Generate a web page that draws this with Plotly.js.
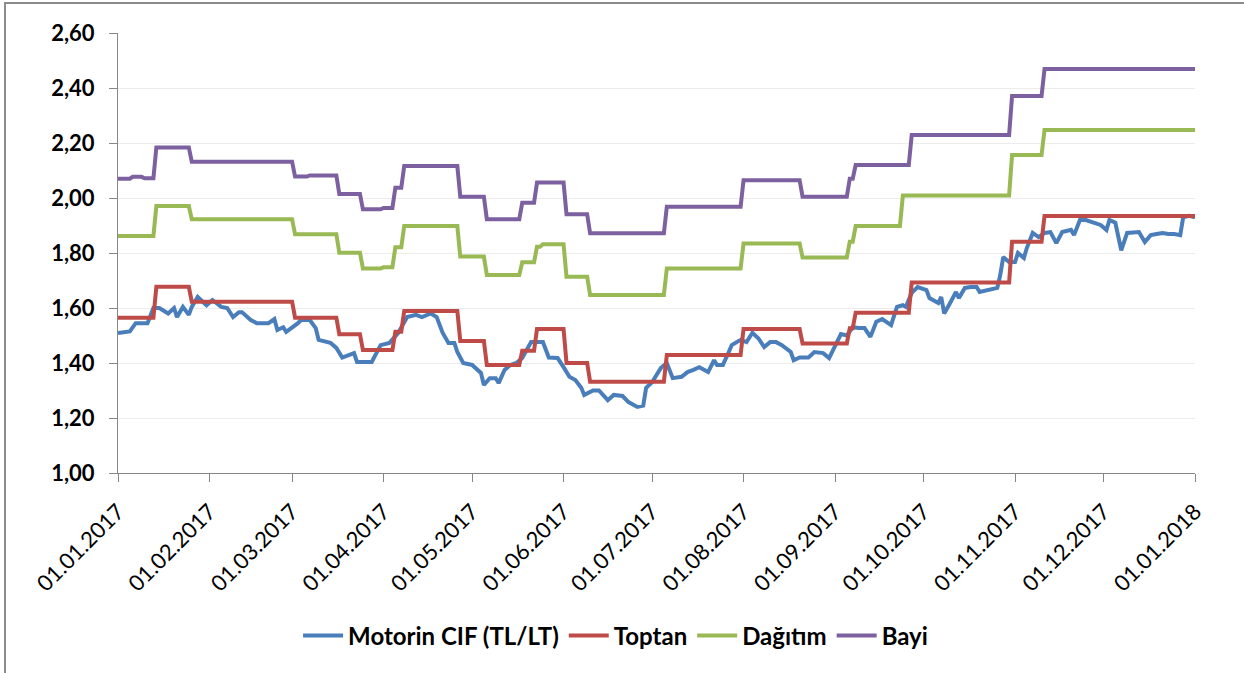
<!DOCTYPE html>
<html>
<head>
<meta charset="utf-8">
<script src="https://cdn.plot.ly/plotly-3.0.1.min.js"></script>
<style>
  html, body { margin: 0; padding: 0; background: #ffffff; overflow: hidden; }
  #chart { width: 1244px; height: 673px; }
  #frame { position: absolute; left: 4px; top: 2px; width: 1400px; height: 900px;
           border-left: 2px solid #8c8c8c; border-top: 2px solid #8c8c8c; pointer-events: none; }
</style>
</head>
<body>
<div id="chart"></div>
<div id="frame"></div>
<script>
// ---- Data ----
const cifDates = [
  "2017-01-01","2017-01-05","2017-01-07","2017-01-11","2017-01-13","2017-01-15","2017-01-18","2017-01-20","2017-01-21","2017-01-23",
  "2017-01-25","2017-01-26","2017-01-28","2017-01-31","2017-02-02","2017-02-05","2017-02-07","2017-02-09","2017-02-11","2017-02-12",
  "2017-02-15","2017-02-17","2017-02-21","2017-02-23","2017-02-24","2017-02-26","2017-02-27","2017-03-01","2017-03-03","2017-03-04",
  "2017-03-07","2017-03-09","2017-03-10","2017-03-14","2017-03-16","2017-03-18","2017-03-22","2017-03-23","2017-03-28","2017-03-31",
  "2017-04-03","2017-04-06","2017-04-07","2017-04-09","2017-04-12","2017-04-14","2017-04-17","2017-04-19","2017-04-21","2017-04-23",
  "2017-04-25","2017-04-26","2017-04-28","2017-05-01","2017-05-04","2017-05-05","2017-05-07","2017-05-09","2017-05-10","2017-05-12",
  "2017-05-14","2017-05-16","2017-05-18","2017-05-21","2017-05-23","2017-05-25","2017-05-27","2017-05-30","2017-06-01","2017-06-03",
  "2017-06-05","2017-06-07","2017-06-08","2017-06-11","2017-06-13","2017-06-16","2017-06-18","2017-06-21","2017-06-23","2017-06-26",
  "2017-06-28","2017-06-29","2017-07-01","2017-07-04","2017-07-06","2017-07-08","2017-07-11","2017-07-13","2017-07-15","2017-07-17",
  "2017-07-20","2017-07-22","2017-07-23","2017-07-25","2017-07-27","2017-07-28","2017-07-31","2017-08-02","2017-08-04","2017-08-06",
  "2017-08-08","2017-08-10","2017-08-12","2017-08-14","2017-08-17","2017-08-18","2017-08-20","2017-08-23","2017-08-25","2017-08-28",
  "2017-08-30","2017-09-01","2017-09-03","2017-09-05","2017-09-07","2017-09-09","2017-09-11","2017-09-13","2017-09-15","2017-09-17",
  "2017-09-20","2017-09-22","2017-09-24","2017-09-25","2017-09-27","2017-09-29","2017-10-02","2017-10-03","2017-10-06","2017-10-07",
  "2017-10-08","2017-10-10","2017-10-12","2017-10-13","2017-10-15","2017-10-17","2017-10-19","2017-10-20","2017-10-24","2017-10-26",
  "2017-10-27","2017-10-28","2017-10-30","2017-11-01","2017-11-02","2017-11-04","2017-11-05","2017-11-07","2017-11-09","2017-11-11",
  "2017-11-13","2017-11-15","2017-11-17","2017-11-20","2017-11-21","2017-11-23","2017-11-25","2017-11-28","2017-11-30","2017-12-02",
  "2017-12-03","2017-12-05","2017-12-07","2017-12-09","2017-12-11","2017-12-13","2017-12-15","2017-12-17","2017-12-19","2017-12-21",
  "2017-12-23","2017-12-25","2017-12-27","2017-12-28","2017-12-30","2018-01-01"
];
const cifValues = [
  1.509,1.515,1.545,1.545,1.600,1.600,1.580,1.600,1.567,1.604,
  1.575,1.604,1.640,1.610,1.629,1.604,1.600,1.567,1.585,1.585,
  1.556,1.545,1.545,1.560,1.520,1.530,1.513,1.527,1.545,1.556,
  1.556,1.527,1.484,1.473,1.455,1.420,1.436,1.404,1.404,1.465,
  1.473,1.510,1.530,1.567,1.575,1.567,1.580,1.567,1.510,1.473,
  1.473,1.440,1.400,1.393,1.364,1.320,1.345,1.345,1.327,1.375,
  1.393,1.400,1.418,1.476,1.476,1.476,1.420,1.418,1.385,1.350,
  1.338,1.310,1.284,1.300,1.300,1.265,1.284,1.280,1.258,1.240,
  1.245,1.310,1.330,1.382,1.400,1.345,1.350,1.367,1.375,1.385,
  1.367,1.410,1.393,1.393,1.440,1.465,1.484,1.476,1.510,1.490,
  1.458,1.476,1.476,1.465,1.440,1.410,1.420,1.420,1.440,1.436,
  1.418,1.465,1.505,1.500,1.530,1.527,1.527,1.495,1.550,1.560,
  1.538,1.604,1.610,1.604,1.655,1.676,1.665,1.636,1.618,1.640,
  1.580,1.618,1.658,1.636,1.673,1.676,1.676,1.658,1.669,1.673,
  1.720,1.785,1.767,1.767,1.800,1.782,1.818,1.873,1.858,1.873,
  1.876,1.836,1.876,1.884,1.865,1.920,1.920,1.910,1.902,1.884,
  1.920,1.910,1.810,1.873,1.876,1.876,1.840,1.865,1.869,1.873,
  1.869,1.869,1.865,1.930,1.935,1.930
];

// Step series: date of each price change and the new level
const toptanChangeDates = ["2017-01-01","2017-01-14","2017-01-26","2017-03-02","2017-03-17","2017-03-25","2017-04-05","2017-04-08",
  "2017-04-27","2017-05-06","2017-05-18","2017-05-23","2017-06-02","2017-06-10","2017-07-06","2017-08-01","2017-08-21",
  "2017-09-06","2017-09-08","2017-09-27","2017-10-31","2017-11-11"];
const toptanLevels = [1.565,1.677,1.623,1.565,1.505,1.447,1.514,1.589,
  1.480,1.393,1.445,1.524,1.400,1.332,1.429,1.524,1.471,
  1.526,1.583,1.693,1.841,1.935];

const dagitimChangeDates = ["2017-01-01","2017-01-14","2017-01-26","2017-03-02","2017-03-17","2017-03-25","2017-04-01","2017-04-05","2017-04-08",
  "2017-04-27","2017-05-06","2017-05-18","2017-05-23","2017-05-25","2017-06-02","2017-06-10","2017-07-06","2017-08-01","2017-08-21",
  "2017-09-06","2017-09-08","2017-09-24","2017-10-31","2017-11-11"];
const dagitimLevels = [1.862,1.971,1.923,1.868,1.801,1.744,1.748,1.821,1.898,
  1.787,1.720,1.766,1.823,1.832,1.714,1.647,1.744,1.835,1.784,
  1.841,1.898,2.009,2.156,2.247];

const bayiChangeDates = ["2017-01-01","2017-01-06","2017-01-10","2017-01-14","2017-01-26","2017-03-02","2017-03-07","2017-03-17","2017-03-25","2017-04-01",
  "2017-04-05","2017-04-08","2017-04-27","2017-05-06","2017-05-18","2017-05-23","2017-06-02","2017-06-10","2017-07-06","2017-08-01",
  "2017-08-21","2017-09-06","2017-09-08","2017-09-27","2017-10-31","2017-11-11"];
const bayiLevels = [2.070,2.077,2.072,2.184,2.132,2.078,2.082,2.015,1.959,1.964,
  2.037,2.116,2.005,1.923,1.983,2.056,1.941,1.872,1.968,2.065,
  2.005,2.070,2.120,2.229,2.371,2.469];

const seriesNames = ["Motorin CIF (TL/LT)", "Toptan", "Dağıtım", "Bayi"];
const monthTicks = ["2017-01-01","2017-02-01","2017-03-01","2017-04-01","2017-05-01","2017-06-01","2017-07-01",
  "2017-08-01","2017-09-01","2017-10-01","2017-11-01","2017-12-01","2018-01-01"];
const monthTickLabels = ["01.01.2017","01.02.2017","01.03.2017","01.04.2017","01.05.2017","01.06.2017","01.07.2017",
  "01.08.2017","01.09.2017","01.10.2017","01.11.2017","01.12.2017","01.01.2018"];
const yTicks = [1.0,1.2,1.4,1.6,1.8,2.0,2.2,2.4,2.6];
const yTickLabels = ["1,00","1,20","1,40","1,60","1,80","2,00","2,20","2,40","2,60"];

// Expand a step series (change dates + levels) into one value per day
function expandDaily(changeDates, levels, endDate) {
  const xs = [], ys = [];
  const end = new Date(endDate + "T00:00:00Z");
  let d = new Date(changeDates[0] + "T00:00:00Z");
  let idx = 0;
  while (d <= end) {
    const s = d.toISOString().slice(0, 10);
    while (idx + 1 < changeDates.length && changeDates[idx + 1] <= s) idx++;
    xs.push(s); ys.push(levels[idx]);
    d = new Date(d.getTime() + 86400000);
  }
  return {xs, ys};
}

const endDate = "2018-01-01";
const toptanDaily = expandDaily(toptanChangeDates, toptanLevels, endDate);
const dagitimDaily = expandDaily(dagitimChangeDates, dagitimLevels, endDate);
const bayiDaily = expandDaily(bayiChangeDates, bayiLevels, endDate);

const colors = ["#4a7ebb", "#be4b48", "#98b954", "#7d60a0"];
const lw = 4;

const traces = [
  {x: cifDates, y: cifValues, name: seriesNames[0], type: "scatter", mode: "lines",
   line: {color: colors[0], width: lw, shape: "linear"}},
  {x: toptanDaily.xs, y: toptanDaily.ys, name: seriesNames[1], type: "scatter", mode: "lines",
   line: {color: colors[1], width: lw}},
  {x: dagitimDaily.xs, y: dagitimDaily.ys, name: seriesNames[2], type: "scatter", mode: "lines",
   line: {color: colors[2], width: lw}},
  {x: bayiDaily.xs, y: bayiDaily.ys, name: seriesNames[3], type: "scatter", mode: "lines",
   line: {color: colors[3], width: lw}}
];

const layout = {
  width: 1244, height: 673,
  margin: {l: 118, r: 49, t: 33, b: 200},
  paper_bgcolor: "#ffffff", plot_bgcolor: "#ffffff",
  font: {family: "Lato, 'Open Sans', sans-serif", color: "#000000"},
  showlegend: true,
  legend: {orientation: "h", x: 0.462, xanchor: "center", y: -0.37, yanchor: "middle",
           font: {size: 24, family: "Lato, sans-serif", weight: "bold"}, itemwidth: 40, tracegroupgap: 0},
  xaxis: {
    type: "date", range: ["2017-01-01", "2018-01-01"],
    tickmode: "array", tickvals: monthTicks, ticktext: monthTickLabels,
    tickangle: -45, tickfont: {size: 22, family: "Lato, sans-serif"},
    ticks: "outside", ticklen: 8, tickcolor: "#868686", tickwidth: 1,
    ticklabelstandoff: 8,
    showline: true, linecolor: "#868686", linewidth: 1,
    showgrid: false, zeroline: false, automargin: false
  },
  yaxis: {
    range: [1.0, 2.6], tickmode: "array", tickvals: yTicks, ticktext: yTickLabels,
    tickfont: {size: 22, family: "Lato, sans-serif", weight: "bold"},
    ticks: "outside", ticklen: 8, tickcolor: "#868686", tickwidth: 1,
    ticklabelstandoff: 10,
    showline: true, linecolor: "#868686", linewidth: 1,
    showgrid: true, gridcolor: "#ececec", gridwidth: 1, zeroline: false, automargin: false
  }
};

Plotly.newPlot("chart", traces, layout, {displayModeBar: false, staticPlot: true});
</script>
</body>
</html>
